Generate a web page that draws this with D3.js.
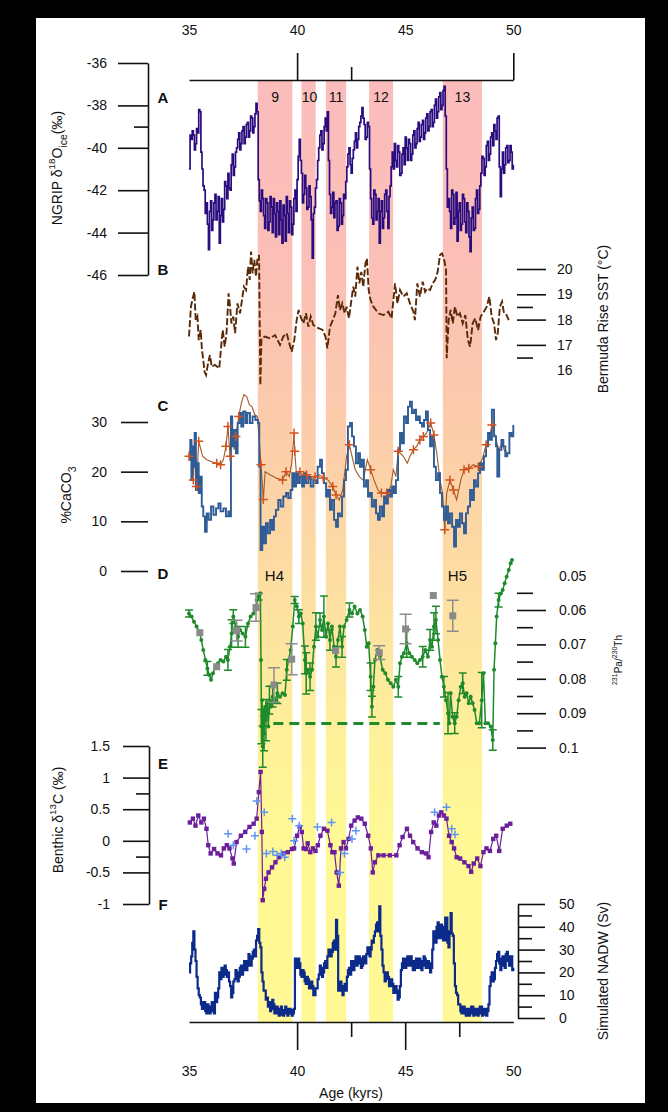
<!DOCTYPE html>
<html><head><meta charset="utf-8">
<script src="https://cdn.jsdelivr.net/npm/d3@7"></script>
<style>html,body{margin:0;padding:0;background:#000;}svg{display:block;}text{font-family:"Liberation Sans",Arial,sans-serif;}</style>
</head><body><svg id="c" width="668" height="1112"></svg>
<script>
// ---------------- DATA ----------------
const ageTicks = [35, 40, 45, 50];
const bandStart = [38.18, 40.20, 41.33, 43.33, 46.74];
const bandEnd   = [39.78, 40.86, 42.27, 44.44, 48.55];
const bandLabels = ["9", "10", "11", "12", "13"];
const heinrichLabels = ["H4", "H5"];
const heinrichAges = [38.95, 47.6];

// A: NGRIP d18O, sampled every 0.05 kyr from 35.0 (one row per kyr)
const ngripStart = 35.0, ngripStep = 0.05;
const ngripVal = [
 -41.0,-39.4,-39.6,-39.2,-39.4,-40.1,-39.8,-39.1,-39.3,-38.2,-38.3,-40.2,-41.0,-41.8,-42.0,-43.1,-42.6,-43.6,-44.8,-43.0,
 -42.5,-43.9,-43.4,-42.6,-42.2,-43.4,-43.0,-42.3,-44.5,-43.2,-42.4,-43.5,-42.9,-41.6,-41.8,-42.4,-41.2,-41.9,-42.0,-40.8,
 -40.3,-41.3,-40.9,-40.2,-40.0,-39.6,-39.3,-40.1,-39.8,-39.2,-39.0,-39.8,-39.5,-38.9,-38.8,-39.5,-39.2,-38.5,-38.6,-39.3,
 -39.0,-38.4,-37.9,-38.3,-41.5,-42.5,-43.0,-42.0,-42.4,-43.2,-43.8,-42.4,-42.6,-43.9,-43.5,-42.3,-42.8,-44.0,-42.4,-43.1,
 -44.2,-42.6,-43.0,-44.1,-42.5,-43.4,-44.5,-42.7,-43.2,-44.4,-42.3,-43.1,-44.0,-42.5,-42.8,-44.1,-43.6,-42.4,-42.0,-43.0,
 -41.5,-40.4,-39.6,-40.6,-41.2,-42.6,-42.2,-41.3,-41.9,-42.9,-42.8,-41.8,-42.3,-43.4,-45.2,-43.1,-42.8,-41.9,-41.5,-40.6,
 -40.0,-39.4,-39.2,-40.1,-39.8,-39.0,-38.6,-39.2,-38.3,-40.6,-42.2,-43.1,-42.8,-42.1,-43.3,-42.6,-42.5,-43.9,-43.7,-42.4,
 -42.6,-43.6,-43.2,-42.2,-42.4,-41.6,-40.9,-40.3,-40.0,-40.8,-41.2,-40.5,-40.1,-39.7,-39.3,-40.0,-39.6,-39.0,-38.8,-38.5,
 -38.1,-38.6,-38.9,-39.6,-39.5,-38.8,-39.0,-41.0,-42.4,-43.3,-43.6,-42.0,-42.2,-43.4,-43.0,-42.4,-44.5,-43.0,-42.5,-43.8,
 -43.3,-42.2,-42.0,-43.0,-43.8,-42.3,-41.8,-40.9,-40.2,-41.0,-39.8,-40.6,-40.9,-39.9,-40.2,-41.3,-41.2,-40.3,-40.0,-40.8,
 -39.5,-40.0,-40.6,-39.6,-39.8,-40.6,-40.3,-39.4,-39.2,-40.0,-39.8,-39.1,-38.8,-39.7,-39.5,-38.9,-38.7,-39.6,-39.3,-38.6,
 -38.4,-39.2,-39.0,-38.3,-38.2,-39.0,-38.8,-38.0,-37.7,-38.6,-38.3,-37.6,-37.4,-38.2,-38.0,-37.3,-37.1,-38.5,-41.0,-42.8,
 -42.4,-43.0,-43.8,-42.0,-42.2,-43.6,-43.3,-42.1,-44.4,-43.0,-42.6,-43.9,-43.6,-42.2,-42.4,-43.5,-44.0,-42.6,-43.0,-44.2,
 -44.9,-43.3,-42.8,-43.9,-43.8,-42.4,-42.0,-43.1,-42.9,-41.8,-41.2,-40.4,-40.5,-41.3,-40.9,-39.9,-39.7,-40.6,-40.3,-39.5,
 -39.3,-39.9,-38.9,-39.2,-39.6,-38.6,-38.5,-40.9,-42.3,-41.0,-40.2,-41.2,-40.8,-40.0,-39.9,-40.7,-40.6,-39.9,-40.2,-41.0,
 -40.8];
const ngripTicks = [-36, -38, -40, -42, -44, -46];

// B: Bermuda Rise SST
const sstAge = [35.00,35.09,35.17,35.25,35.31,35.39,35.45,35.54,35.60,35.66,35.72,35.79,35.88,35.97,36.05,36.20,36.40,36.50,36.56,36.65,36.74,36.83,36.90,36.96,37.05,37.13,37.24,37.36,37.45,37.54,37.64,37.73,37.81,37.87,37.94,38.02,38.10,38.16,38.24,38.30,38.35,38.52,38.75,38.98,39.21,39.36,39.52,39.64,39.75,39.87,39.98,40.07,40.16,40.29,40.41,40.52,40.63,40.75,40.91,41.18,41.31,41.40,41.52,41.65,41.77,41.89,41.98,42.09,42.20,42.29,42.40,42.51,42.60,42.69,42.79,42.88,42.97,43.06,43.16,43.23,43.31,43.40,43.53,43.76,43.99,44.22,44.37,44.53,44.64,44.76,44.91,45.07,45.22,45.38,45.45,45.56,45.68,45.81,45.92,46.02,46.15,46.27,46.39,46.50,46.61,46.70,46.79,46.89,46.92,47.01,47.10,47.20,47.30,47.41,47.53,47.66,47.78,47.90,48.00,48.12,48.24,48.37,48.49,48.64,48.77,48.89,49.00,49.11,49.20,49.28,49.38,49.48,49.57,49.69,49.79];
const sstVal = [17.33,18.51,18.84,19.10,17.98,18.12,17.19,17.59,16.80,16.40,15.94,15.81,16.27,16.60,16.14,16.21,16.07,17.06,17.59,16.93,17.52,19.04,18.51,17.85,18.12,17.46,18.64,18.25,18.77,19.30,19.17,20.09,19.57,20.69,19.83,20.36,19.70,20.36,20.55,15.41,17.26,17.33,17.26,17.39,17.00,17.33,17.46,17.06,16.73,17.19,17.98,18.38,18.12,17.85,18.25,17.72,18.12,17.79,17.69,17.59,17.33,16.86,17.72,17.98,18.25,18.97,18.38,18.64,18.25,18.51,18.05,18.77,19.30,18.91,20.09,19.43,19.89,19.30,20.22,20.42,19.17,18.77,18.51,18.25,18.18,18.31,18.05,19.43,18.64,19.17,18.91,19.04,18.64,18.31,17.98,19.43,18.91,19.50,19.10,19.24,19.17,19.43,19.57,19.89,20.55,20.62,20.42,19.96,16.47,17.98,18.38,17.85,18.51,18.12,18.25,17.85,18.18,17.19,16.93,17.85,18.05,17.59,18.12,18.31,18.51,18.91,18.12,17.85,17.19,17.46,18.51,18.71,18.25,18.18,17.98];
const sstTicks = [20, 19, 18, 17, 16];
const sstMinor = [18.5, 16.5];

// C: %CaCO3 (blue record)
const caBlueAge = [35.00,35.06,35.11,35.15,35.22,35.26,35.32,35.39,35.45,35.51,35.59,35.66,35.74,35.82,35.91,36.02,36.13,36.25,36.36,36.46,36.59,36.71,36.82,36.90,36.94,37.00,37.08,37.17,37.25,37.33,37.42,37.51,37.61,37.70,37.82,37.94,38.07,38.19,38.25,38.31,38.39,38.47,38.56,38.65,38.75,38.84,38.93,39.02,39.13,39.24,39.36,39.49,39.59,39.70,39.78,39.86,39.95,40.04,40.13,40.23,40.32,40.41,40.52,40.63,40.75,40.86,40.95,41.06,41.15,41.24,41.34,41.43,41.52,41.61,41.71,41.80,41.89,41.98,42.08,42.17,42.26,42.35,42.45,42.54,42.63,42.72,42.82,42.91,43.00,43.09,43.19,43.28,43.37,43.46,43.56,43.65,43.74,43.83,43.93,44.02,44.11,44.20,44.30,44.39,44.48,44.57,44.67,44.76,44.85,44.94,45.04,45.13,45.22,45.31,45.41,45.50,45.59,45.68,45.78,45.87,45.96,46.05,46.15,46.24,46.33,46.42,46.52,46.61,46.70,46.79,46.89,46.98,47.07,47.17,47.26,47.35,47.44,47.53,47.63,47.72,47.81,47.90,48.00,48.09,48.18,48.27,48.37,48.46,48.55,48.64,48.74,48.83,48.92,49.01,49.11,49.20,49.26,49.35,49.45,49.54,49.63,49.72,49.82,49.91,50.00];
const caBlueVal = [22.4,26.4,18.3,25.1,21.0,27.8,16.3,21.7,15.7,19.0,13.0,11.0,7.9,11.6,10.3,13.0,11.3,12.6,13.6,12.0,12.6,11.0,12.0,11.0,31.1,25.1,28.4,23.7,29.8,31.8,29.1,32.1,29.8,31.8,29.8,31.1,30.4,29.8,21.0,4.2,8.9,5.6,9.6,7.6,10.3,8.3,11.0,12.3,14.3,13.0,15.0,15.7,14.7,16.3,19.7,17.0,19.7,17.7,19.0,17.0,19.7,17.7,19.0,17.0,18.3,17.7,21.0,22.4,19.7,17.7,15.0,16.3,12.3,14.3,10.3,8.9,11.6,11.0,15.0,18.3,20.4,29.1,29.8,27.1,25.1,21.7,23.7,21.0,22.4,17.0,18.3,15.0,15.7,13.0,14.3,11.6,10.3,13.0,11.0,15.0,13.6,16.3,15.0,17.0,15.7,18.3,24.4,27.8,25.7,31.1,29.8,33.1,34.1,31.8,32.5,30.4,31.1,29.8,29.1,30.4,32.1,28.4,25.1,27.1,21.0,18.3,19.7,15.7,13.0,10.3,13.0,9.6,11.6,8.9,4.9,10.3,8.9,11.6,9.6,7.6,11.6,13.0,16.3,14.3,18.3,17.0,19.7,21.7,20.4,23.1,25.1,27.8,26.4,32.5,27.1,25.1,19.0,24.4,26.4,25.1,23.1,23.7,27.8,27.1,29.4];
// C: %CaCO3 (second record, crosses)
const caOrAge = [35.00,35.12,35.20,35.29,35.35,35.45,35.51,35.63,35.82,36.05,36.28,36.46,36.59,36.71,36.80,36.90,36.99,37.08,37.17,37.30,37.42,37.54,37.67,37.79,37.91,38.04,38.16,38.25,38.33,38.44,38.52,38.75,39.05,39.33,39.49,39.64,39.75,39.86,39.89,39.98,40.13,40.29,40.44,40.63,40.83,41.03,41.21,41.44,41.65,41.80,41.95,42.11,42.29,42.42,42.54,42.69,42.88,43.06,43.25,43.40,43.56,43.74,43.90,44.14,44.33,44.45,44.57,44.68,44.91,45.10,45.22,45.38,45.53,45.68,45.84,45.99,46.18,46.33,46.46,46.61,46.73,46.83,46.92,47.07,47.23,47.38,47.57,47.72,47.94,48.15,48.38,48.58,48.74,48.89,49.01,49.17,49.32,49.48,49.60,49.72];
const caOrVal = [23.1,26.4,18.3,26.7,17.0,26.1,25.1,23.1,22.4,22.0,21.7,21.4,22.4,25.1,29.1,23.1,28.4,24.4,27.1,31.1,33.8,35.5,35.1,33.5,33.1,31.5,31.1,26.4,21.4,14.4,20.0,19.4,18.7,18.3,20.0,19.0,21.7,27.8,24.1,19.0,20.0,18.7,19.4,18.3,19.0,19.4,18.7,18.3,17.0,15.3,14.3,16.3,23.1,25.4,23.1,20.4,19.0,18.3,22.4,20.4,18.3,16.3,15.7,15.7,17.0,20.4,19.0,24.1,23.1,21.7,23.1,24.4,25.1,26.4,27.1,27.8,29.8,27.4,23.7,18.3,15.7,8.3,15.7,18.3,16.3,14.3,18.3,20.4,20.7,21.4,21.0,22.7,25.4,26.7,29.4,27.1,24.4,25.7,24.1,24.1];
const caOrCross = [1,0,1,0,1,1,0,0,0,0,1,1,0,1,1,1,0,0,1,1,0,0,0,0,0,0,0,0,1,1,0,0,0,1,1,0,0,1,1,0,1,0,1,0,1,0,1,0,1,1,0,0,0,1,0,0,0,0,0,1,0,0,1,1,0,0,0,1,0,0,0,1,0,1,1,0,1,1,0,0,0,1,0,1,1,0,0,1,1,0,1,0,1,0,1,0,0,0,0,0];
const caTicks = [30, 20, 10, 0];

// D: 231Pa/230Th
const paAge = [35.00,35.12,35.23,35.35,35.48,35.57,35.66,35.76,35.85,35.94,36.02,36.11,36.22,36.34,36.46,36.59,36.71,36.80,36.90,36.97,37.05,37.17,37.27,37.36,37.48,37.61,37.73,37.85,37.98,38.10,38.22,38.30,38.33,38.35,38.38,38.41,38.44,38.47,38.52,38.56,38.62,38.67,38.72,38.78,38.87,38.98,39.09,39.21,39.33,39.44,39.52,39.61,39.70,39.80,39.89,39.99,40.08,40.17,40.26,40.36,40.42,40.51,40.60,40.69,40.78,40.87,40.96,41.06,41.15,41.24,41.34,41.43,41.52,41.61,41.71,41.80,41.89,41.98,42.08,42.17,42.29,42.42,42.54,42.66,42.79,42.91,43.03,43.13,43.22,43.31,43.40,43.46,43.53,43.60,43.71,43.83,43.96,44.08,44.20,44.33,44.45,44.57,44.68,44.76,44.85,44.94,45.07,45.19,45.31,45.44,45.56,45.68,45.81,45.93,46.05,46.15,46.24,46.33,46.42,46.52,46.61,46.70,46.79,46.89,46.98,47.04,47.10,47.19,47.29,47.38,47.47,47.57,47.66,47.75,47.84,47.94,48.03,48.12,48.21,48.31,48.43,48.54,48.62,48.71,48.83,48.96,49.05,49.11,49.17,49.23,49.32,49.42,49.51,49.60,49.69,49.79,49.88,49.94];
const paVal = [0.0610,0.0619,0.0634,0.0648,0.0663,0.0687,0.0716,0.0745,0.0770,0.0789,0.0803,0.0784,0.0765,0.0755,0.0745,0.0750,0.0736,0.0745,0.0707,0.0668,0.0619,0.0648,0.0678,0.0658,0.0668,0.0678,0.0639,0.0619,0.0610,0.0590,0.0561,0.0552,0.0745,0.0939,0.0862,0.0997,0.0891,0.0959,0.0881,0.0920,0.0871,0.0939,0.0862,0.0881,0.0852,0.0862,0.0842,0.0852,0.0842,0.0847,0.0774,0.0745,0.0716,0.0648,0.0571,0.0590,0.0619,0.0610,0.0639,0.0745,0.0784,0.0774,0.0794,0.0774,0.0707,0.0648,0.0678,0.0629,0.0658,0.0619,0.0678,0.0639,0.0687,0.0648,0.0707,0.0736,0.0687,0.0648,0.0707,0.0648,0.0629,0.0600,0.0610,0.0590,0.0610,0.0600,0.0619,0.0658,0.0707,0.0697,0.0794,0.0881,0.0823,0.0745,0.0716,0.0736,0.0774,0.0784,0.0803,0.0813,0.0823,0.0803,0.0823,0.0755,0.0736,0.0726,0.0697,0.0726,0.0736,0.0745,0.0755,0.0745,0.0736,0.0716,0.0736,0.0687,0.0707,0.0648,0.0629,0.0687,0.0745,0.0794,0.0823,0.0862,0.0900,0.0929,0.0842,0.0910,0.0929,0.0910,0.0862,0.0823,0.0813,0.0852,0.0842,0.0871,0.0852,0.0871,0.0891,0.0929,0.0929,0.0862,0.0784,0.0929,0.0929,0.0939,0.0978,0.0774,0.0697,0.0619,0.0571,0.0552,0.0542,0.0522,0.0503,0.0484,0.0464,0.0455];
const paErr = [0.001,0,0,0,0,0,0,0,0.002,0,0,0,0,0,0,0,0,0.003,0,0.004,0.002,0,0.003,0,0,0.003,0,0,0,0,0.001,0,0,0.005,0,0.006,0,0.005,0,0.006,0,0,0.004,0,0.003,0,0.003,0,0,0,0.003,0,0,0,0.001,0,0.002,0,0,0.004,0.006,0,0.004,0,0,0.004,0,0.002,0,0.006,0,0,0.003,0,0,0.003,0,0,0.003,0,0,0.002,0,0,0,0,0,0,0,0,0.004,0.003,0,0,0,0,0,0,0,0,0,0,0.003,0,0,0,0.004,0,0,0,0,0,0.003,0,0,0.003,0,0.004,0.004,0,0,0,0.003,0,0.006,0,0,0,0.003,0,0,0,0.003,0,0,0,0,0,0,0,0,0.008,0,0,0,0,0.003,0,0,0,0.002,0,0,0,0,0,0,0];
const paSqAge = [35.5, 36.28, 37.2, 38.1, 38.93, 39.75, 41.78, 43.8, 45.02, 46.3, 47.2];
const paSqVal = [0.0666, 0.0765, 0.066, 0.0593, 0.0818, 0.0743, 0.0718, 0.0724, 0.0655, 0.0558, 0.0617];
const paSqErr = [0, 0, 0.003, 0.004, 0.005, 0.0045, 0, 0.002, 0.0043, 0, 0.0045];
const productionRatio = 0.093;
const prodAge = [38.9, 46.6];
const paTicks = [0.06, 0.07, 0.08, 0.09, 0.1];
const paMinor = [0.055, 0.065, 0.075, 0.085, 0.095];

// E: benthic d13C
const d13Age = [35.04,35.18,35.30,35.43,35.57,35.69,35.81,35.89,36.00,36.16,36.32,36.48,36.61,36.75,36.87,37.01,37.07,37.20,37.40,37.60,37.80,37.99,38.13,38.23,38.31,38.37,38.41,38.48,38.56,38.68,38.84,39.00,39.17,39.37,39.57,39.76,39.86,40.00,40.12,40.22,40.30,40.41,40.49,40.61,40.73,40.85,40.96,41.08,41.24,41.40,41.54,41.63,41.73,41.83,41.93,42.03,42.15,42.26,42.38,42.50,42.66,42.81,42.97,43.13,43.29,43.41,43.50,43.60,43.76,44.00,44.29,44.59,44.74,44.88,45.08,45.22,45.37,45.57,45.77,45.96,46.08,46.20,46.32,46.44,46.56,46.67,46.79,46.91,47.03,47.15,47.26,47.38,47.54,47.74,47.93,48.05,48.17,48.33,48.48,48.62,48.76,48.92,49.07,49.21,49.35,49.51,49.70,49.86];
const d13Val = [0.29,0.35,0.24,0.40,0.29,0.35,0.19,-0.07,-0.20,-0.13,-0.20,-0.23,-0.12,-0.07,-0.12,-0.28,-0.36,-0.02,0.08,0.14,0.22,0.27,0.35,0.77,1.09,0.14,-0.94,-0.76,-0.60,-0.50,-0.42,-0.34,-0.26,-0.20,-0.18,-0.13,-0.12,0.08,0.22,0.14,-0.12,-0.13,-0.04,-0.18,-0.12,-0.16,-0.07,0.08,0.19,0.16,-0.07,-0.18,-0.18,-0.50,-0.71,-0.12,-0.02,-0.12,0.03,0.24,0.32,0.37,0.35,0.27,0.08,-0.12,-0.50,-0.34,-0.23,-0.23,-0.23,-0.23,-0.07,0.06,0.19,0.08,-0.02,-0.12,-0.18,-0.20,-0.26,0.14,0.29,0.24,0.40,0.45,0.40,0.35,0.08,-0.02,-0.12,-0.26,-0.28,-0.34,-0.40,-0.49,-0.36,-0.28,-0.40,-0.18,-0.12,-0.16,0.03,0.08,-0.16,0.19,0.24,0.27];
const d13bAge = [36.81,37.05,37.66,38.05,38.13,38.48,38.58,38.88,39.07,39.27,39.43,39.78,39.86,40.10,40.94,41.59,41.99,42.19,42.54,42.72,46.36,46.91,47.15,47.30];
const d13bVal = [0.11,-0.07,-0.13,0.08,0.63,0.45,-0.20,-0.17,-0.23,-0.20,-0.26,0.35,0.00,0.24,0.22,0.29,-0.50,-0.20,0.03,0.16,0.45,0.53,0.19,0.10];
const d13Ticks = [1.5, 1, 0.5, 0, -0.5, -1];
const d13Minor = [0.75, -0.25];

// F: simulated NADW, sampled every 0.05 kyr from 35.0 (one row per kyr)
const nadwStart = 35.0, nadwStep = 0.05;
const nadwVal = [
 20,24,27,33,38,30,25,18,13,10,9,6,4,7,7,3,2,6,5,2,
 3,7,6,2,11,7,9,13,20,17,22,18,19,23,21,18,20,16,14,9,
 11,16,17,21,20,16,18,22,23,19,21,25,25,21,23,28,27,23,26,29,
 30,27,34,36,39,33,31,20,16,12,12,8,9,5,7,3,4,8,6,2,
 2,5,4,1,1.5,5,3.5,1,2,5,4,1,2,4,3.5,1,2,4,26,22,
 22,26,24,19,18,21,20,16,15,18,17,13,13,16,14,10,10,13,13,17,
 19,23,22,18,20,24,25,22,27,30,30,27,29,33,34,30,43,36,12,15,
 16,12,10,14,15,12,18,21,22,19,25,22,21,25,27,23,24,27,26,22,
 23,27,27,24,28,31,31,27,30,34,33,36,38,41,42,38,49,36,30,23,
 20,16,17,20,18,14,14,17,15,11,11,14,12,8,9,14,21,24,26,22,
 22,26,27,23,23,27,25,21,21,25,26,22,22,26,25,21,23,27,26,22,
 22,25,24,20,22,30,38,34,33,40,42,35,35,41,40,34,34,44,44,33,
 31,38,46,37,36,24,14,11,10,6,6,3,2,5,5,2,1,4,4,1,
 2,5,5,1,1.5,4,4,1,2,5,5,1,1.5,4,4,1,3,6,14,18,
 20,16,17,22,25,28,29,24,21,26,27,23,22,28,29,25,23,27,27,21,
 22];
const nadwTicks = [0, 10, 20, 30, 40, 50];
const nadwMinor = [5, 15, 25, 35, 45];

// ---------------- DRAW ----------------
const svg = d3.select('#c');
svg.append('rect').attr('width', 668).attr('height', 1112).attr('fill', '#000');
svg.append('rect').attr('x', 36).attr('y', 18).attr('width', 609).attr('height', 1085).attr('fill', '#fff');

const x = d3.scaleLinear().domain([35, 50]).range([189, 513.3]);
const yA = d3.scaleLinear().domain([-36, -46]).range([63, 275]);
const yB = d3.scaleLinear().domain([20, 16]).range([269, 370.2]);
const yC = d3.scaleLinear().domain([30, 0]).range([422, 571]);
const yD = d3.scaleLinear().domain([0.05, 0.1]).range([575.6, 747.6]);
const yE = d3.scaleLinear().domain([1.5, -1]).range([746, 904]);
const yF = d3.scaleLinear().domain([50, 0]).range([904, 1018]);

// gradient bands
const defs = svg.append('defs');
const grad = defs.append('linearGradient').attr('id', 'bandGrad').attr('gradientUnits', 'userSpaceOnUse')
  .attr('x1', 0).attr('x2', 0).attr('y1', 80).attr('y2', 1022);
[[0, '#fbbcbc'], [0.2, '#fbbfb6'], [0.38, '#fccdaa'], [0.52, '#fddca2'], [0.7, '#fef19a'], [0.8, '#fff895'], [1, '#fff895']]
  .forEach(s => grad.append('stop').attr('offset', s[0]).attr('stop-color', s[1]));
svg.append('g').selectAll('rect').data(bandStart).join('rect')
  .attr('x', d => x(d)).attr('width', (d, i) => x(bandEnd[i]) - x(d))
  .attr('y', 80).attr('height', 1022 - 80).attr('fill', 'url(#bandGrad)');

const font = '"Liberation Sans", Arial, sans-serif';
function txt(xp, yp, s, opts = {}) {
  const t = svg.append('text').attr('x', xp).attr('y', yp).text(s)
    .attr('font-size', opts.size || 14).attr('fill', opts.fill || '#111')
    .attr('text-anchor', opts.anchor || 'middle').attr('dominant-baseline', 'central');
  if (opts.bold) t.attr('font-weight', 'bold');
  return t;
}
bandLabels.forEach((l, i) => txt((x(bandStart[i]) + x(bandEnd[i])) / 2 + (i === 1 ? 1 : 0), 97, l, {size: 14}));
heinrichLabels.forEach((l, i) => txt(x(heinrichAges[i]) - (i ? 4 : 0), 575, l, {size: 15}));

// ---- A
const ngripData = ngripVal.map((v, i) => [ngripStart + i * ngripStep, v]);
svg.append('path').datum(ngripData).attr('fill', 'none').attr('stroke', '#2a0c7e').attr('stroke-width', 1.7)
  .attr('d', d3.line().curve(d3.curveStepAfter).x(d => x(d[0])).y(d => yA(d[1])));

// ---- B
const sstData = sstAge.map((a, i) => [a, sstVal[i]]);
svg.append('path').datum(sstData).attr('fill', 'none').attr('stroke', '#5a2a08').attr('stroke-width', 1.9)
  .attr('stroke-dasharray', '7,2.5')
  .attr('d', d3.line().x(d => x(d[0])).y(d => yB(d[1])));

// ---- C
const caOr = caOrAge.map((a, i) => [a, caOrVal[i], caOrCross[i]]);
svg.append('path').datum(caOr).attr('fill', 'none').attr('stroke', '#a35a26').attr('stroke-width', 1.1)
  .attr('d', d3.line().x(d => x(d[0])).y(d => yC(d[1])));
const caBlue = caBlueAge.map((a, i) => [a, caBlueVal[i]]);
svg.append('path').datum(caBlue).attr('fill', 'none').attr('stroke', '#2e5c96').attr('stroke-width', 1.9)
  .attr('d', d3.line().curve(d3.curveStepAfter).x(d => x(d[0])).y(d => yC(d[1])));
svg.append('g').selectAll('path').data(caOr.filter(d => d[2])).join('path')
  .attr('d', d => `M${x(d[0]) - 4.5},${yC(d[1])}h9M${x(d[0])},${yC(d[1]) - 4.5}v9`)
  .attr('stroke', '#d2521d').attr('stroke-width', 1.5);

// ---- D
svg.append('line').attr('x1', x(prodAge[0])).attr('x2', x(prodAge[1]))
  .attr('y1', yD(productionRatio)).attr('y2', yD(productionRatio))
  .attr('stroke', '#1f8a2b').attr('stroke-width', 3).attr('stroke-dasharray', '10,6');
const paData = paAge.map((a, i) => [a, paVal[i], paErr[i]]);
const gD = svg.append('g');
gD.append('path').datum(paData).attr('fill', 'none').attr('stroke', '#1f8a2b').attr('stroke-width', 1.5)
  .attr('d', d3.line().x(d => x(d[0])).y(d => yD(d[1])));
gD.selectAll('path.eb').data(paData.filter(d => d[2] > 0)).join('path').attr('class', 'eb')
  .attr('d', d => {
    const cx = x(d[0]), y1 = yD(d[1] - d[2]), y2 = yD(d[1] + d[2]);
    return `M${cx},${y1}V${y2}M${cx - 4},${y1}h8M${cx - 4},${y2}h8`;
  })
  .attr('stroke', '#1f8a2b').attr('stroke-width', 1.5).attr('fill', 'none');
gD.selectAll('circle').data(paData).join('circle')
  .attr('cx', d => x(d[0])).attr('cy', d => yD(d[1])).attr('r', 2).attr('fill', '#1f8a2b');
const sq = paSqAge.map((a, i) => [a, paSqVal[i], paSqErr[i]]);
gD.selectAll('path.seb').data(sq.filter(d => d[2] > 0)).join('path').attr('class', 'seb')
  .attr('d', d => {
    const cx = x(d[0]), y1 = yD(d[1] - d[2]), y2 = yD(d[1] + d[2]);
    return `M${cx},${y1}V${y2}M${cx - 6},${y1}h12M${cx - 6},${y2}h12`;
  })
  .attr('stroke', '#8d8d8d').attr('stroke-width', 1.5).attr('fill', 'none');
gD.selectAll('rect').data(sq).join('rect')
  .attr('x', d => x(d[0]) - 3.5).attr('y', d => yD(d[1]) - 3.5).attr('width', 7).attr('height', 7).attr('fill', '#8a8a8a');

// ---- E
const d13 = d13Age.map((a, i) => [a, d13Val[i]]);
svg.append('path').datum(d13).attr('fill', 'none').attr('stroke', '#6b1f9c').attr('stroke-width', 1.2)
  .attr('d', d3.line().x(d => x(d[0])).y(d => yE(d[1])));
svg.append('g').selectAll('rect').data(d13).join('rect')
  .attr('x', d => x(d[0]) - 2.2).attr('y', d => yE(d[1]) - 2.2).attr('width', 4.4).attr('height', 4.4).attr('fill', '#6b1f9c');
const d13b = d13bAge.map((a, i) => [a, d13bVal[i]]);
svg.append('g').selectAll('path').data(d13b).join('path')
  .attr('d', d => `M${x(d[0]) - 4},${yE(d[1])}h8M${x(d[0])},${yE(d[1]) - 4}v8`)
  .attr('stroke', '#5f95f2').attr('stroke-width', 1.5);

// ---- F
const nadw = nadwVal.map((v, i) => [nadwStart + i * nadwStep, v]);
svg.append('path').datum(nadw).attr('fill', 'none').attr('stroke', '#0b2a8a').attr('stroke-width', 2.2)
  .attr('d', d3.line().curve(d3.curveStepAfter).x(d => x(d[0])).y(d => yF(d[1])));

// ---------------- AXES ----------------
function styleAxis(g, keepDomain) {
  g.selectAll('line').attr('stroke', '#111').attr('stroke-width', 1.6);
  g.selectAll('path.domain').attr('stroke', keepDomain ? '#111' : 'none').attr('stroke-width', 1.6);
  g.selectAll('text').attr('font-family', font).attr('font-size', 14).attr('fill', '#111');
}
const fmt = d => String(d);
// top age axis
let g = svg.append('g').attr('transform', 'translate(0,80)')
  .call(d3.axisTop(x).tickValues([40, 50]).tickSize(27).tickSizeOuter(0).tickFormat(''));
styleAxis(g, true);
g = svg.append('g').attr('transform', 'translate(0,80)')
  .call(d3.axisTop(x).tickValues([42.5]).tickSize(13).tickFormat(''));
styleAxis(g, false);
g = svg.append('g').attr('transform', 'translate(0,80)')
  .call(d3.axisTop(x).tickValues(ageTicks).tickSize(0).tickPadding(45).tickFormat(fmt));
styleAxis(g, false);
// bottom age axis
g = svg.append('g').attr('transform', 'translate(0,1022)')
  .call(d3.axisBottom(x).tickValues([40, 45]).tickSize(28).tickSizeOuter(0).tickFormat(''));
styleAxis(g, true);
g = svg.append('g').attr('transform', 'translate(0,1022)')
  .call(d3.axisBottom(x).tickValues([42.5, 47.5]).tickSize(15).tickFormat(''));
styleAxis(g, false);
g = svg.append('g').attr('transform', 'translate(0,1022)')
  .call(d3.axisBottom(x).tickValues(ageTicks).tickSize(0).tickPadding(44).tickFormat(fmt));
styleAxis(g, false);
txt(351, 1093, 'Age (kyrs)', {size: 14});

// A axis
g = svg.append('g').attr('transform', 'translate(148,0)')
  .call(d3.axisLeft(yA).tickValues(ngripTicks).tickSize(30).tickSizeOuter(0).tickPadding(11).tickFormat(fmt));
styleAxis(g, true);
g = svg.append('g').attr('transform', 'translate(148,0)')
  .call(d3.axisLeft(yA).tickValues([-39]).tickSize(14).tickFormat(''));
styleAxis(g, false);
// B axis
g = svg.append('g').attr('transform', 'translate(517,0)')
  .call(d3.axisRight(yB).tickValues(sstTicks).tickSize(29).tickPadding(11).tickFormat(fmt));
styleAxis(g, false);
g.selectAll('.tick').filter(d => d === 16).select('line').remove();
g = svg.append('g').attr('transform', 'translate(517,0)')
  .call(d3.axisRight(yB).tickValues(sstMinor).tickSize(16).tickFormat(''));
styleAxis(g, false);
// C axis
g = svg.append('g').attr('transform', 'translate(148,0)')
  .call(d3.axisLeft(yC).tickValues(caTicks).tickSize(27).tickPadding(14).tickFormat(fmt));
styleAxis(g, false);
// D axis
g = svg.append('g').attr('transform', 'translate(517,0)')
  .call(d3.axisRight(yD).tickValues([0.05].concat(paTicks)).tickSize(29).tickPadding(13).tickFormat(fmt));
styleAxis(g, false);
g.selectAll('.tick').filter(d => d === 0.05).select('line').remove();
g = svg.append('g').attr('transform', 'translate(517,0)')
  .call(d3.axisRight(yD).tickValues(paMinor).tickSize(16).tickFormat(''));
styleAxis(g, false);
// E axis
g = svg.append('g').attr('transform', 'translate(149,0)')
  .call(d3.axisLeft(yE).tickValues(d13Ticks).tickSize(26).tickSizeOuter(0).tickPadding(13).tickFormat(fmt));
styleAxis(g, true);
g = svg.append('g').attr('transform', 'translate(149,0)')
  .call(d3.axisLeft(yE).tickValues(d13Minor).tickSize(13).tickFormat(''));
styleAxis(g, false);
// F axis
g = svg.append('g').attr('transform', 'translate(518,0)')
  .call(d3.axisRight(yF).tickValues(nadwTicks).tickSize(27).tickSizeOuter(0).tickPadding(14).tickFormat(fmt));
styleAxis(g, true);
g = svg.append('g').attr('transform', 'translate(518,0)')
  .call(d3.axisRight(yF).tickValues(nadwMinor).tickSize(14).tickFormat(''));
styleAxis(g, false);

// panel letters
[['A', 97], ['B', 269], ['C', 405], ['D', 573], ['E', 763], ['F', 904]].forEach(p => txt(163, p[1], p[0], {bold: true, size: 15}));

// axis titles
function richTitle(xp, yp, parts, size) {
  const t = svg.append('text').attr('transform', `translate(${xp},${yp}) rotate(-90)`)
    .attr('text-anchor', 'middle').attr('dominant-baseline', 'central')
    .attr('font-size', size).attr('fill', '#111').attr('font-family', font);
  parts.forEach(p => {
    const s = t.append('tspan').text(p[0]);
    if (p[1] === 'sup') s.attr('baseline-shift', 'super').attr('font-size', size * 0.7);
    if (p[1] === 'sub') s.attr('baseline-shift', 'sub').attr('font-size', size * 0.75);
  });
}
richTitle(57, 168, [['NGRIP δ'], ['18', 'sup'], ['O'], ['ice', 'sub'], ['(‰)']], 14);
richTitle(603, 319, [['Bermuda Rise SST (°C)']], 14);
richTitle(66, 495, [['%CaCO'], ['3', 'sub']], 14);
richTitle(618, 660, [['231', 'sup'], ['Pa/'], ['230', 'sup'], ['Th']], 10);
richTitle(58, 820, [['Benthic δ'], ['13', 'sup'], ['C (‰)']], 14);
richTitle(603, 971, [['Simulated NADW (Sv)']], 14);
</script></body></html>
